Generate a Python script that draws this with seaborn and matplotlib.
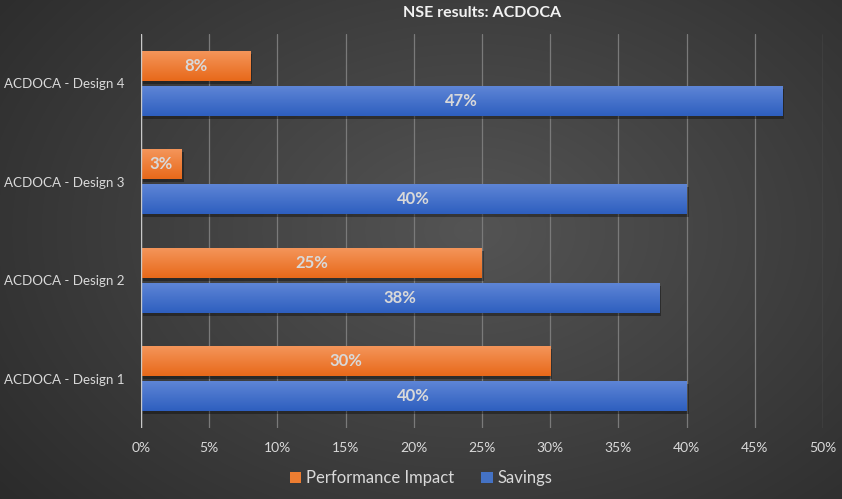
import numpy as np
import pandas as pd
import matplotlib
matplotlib.use("Agg")
import matplotlib.pyplot as plt
import seaborn as sns
from matplotlib.patches import Patch

categories = ["ACDOCA - Design 4", "ACDOCA - Design 3", "ACDOCA - Design 2", "ACDOCA - Design 1"]
performance_impact = [8, 3, 25, 30]
savings = [47, 40, 38, 40]
series_names = ["Performance Impact", "Savings"]
x_ticks = [0, 5, 10, 15, 20, 25, 30, 35, 40, 45, 50]

df = pd.DataFrame({
    "Design": categories * 2,
    "Series": [series_names[0]] * 4 + [series_names[1]] * 4,
    "Value": performance_impact + savings,
})

sns.set_theme(style="dark")
plt.rcParams["font.family"] = ["Lato", "DejaVu Sans"]

colors = {"Performance Impact": "#ED7D31", "Savings": "#4472C4"}
grad = {"Performance Impact": ("#f4955a", "#e8691a"), "Savings": ("#5e85d6", "#2e5fbf")}

fig = plt.figure(figsize=(8.42, 4.99), dpi=100)

# background radial gradient
bg = fig.add_axes([0, 0, 1, 1], zorder=-10)
yy, xx = np.mgrid[0:499, 0:842]
r = np.sqrt(((xx - 470) / 600.0) ** 2 + ((yy - 230) / 420.0) ** 2)
val = np.clip(0.33 - 0.16 * r, 0.16, 0.33)
bg.imshow(np.dstack([val, val, val]), aspect="auto", extent=[0, 1, 0, 1])
bg.axis("off")

ax = fig.add_axes([0.1675, 0.1423, 0.8099, 0.7896])
ax.set_facecolor("none")
ax.patch.set_alpha(0)

sns.barplot(data=df, y="Design", x="Value", hue="Series", order=categories,
            hue_order=series_names, palette=colors, orient="h",
            width=0.71, gap=0.15, ax=ax, legend=False, zorder=3,
            linewidth=0, errorbar=None)

ax.set_xlim(0, 50)
ax.set_xticks(x_ticks)
ax.set_xticklabels([f"{t}%" for t in x_ticks], color="#d9d9d9", fontsize=10)
ax.tick_params(axis="y", colors="#d9d9d9", labelsize=9.6, length=0, pad=12)
ax.tick_params(axis="x", length=0, pad=10)
ax.set_xlabel("")
ax.set_ylabel("")
ax.grid(axis="x", color="#7a7a7a", linewidth=0.9, zorder=0)
ax.grid(axis="y", visible=False)
for s in ax.spines.values():
    s.set_visible(False)
ax.axvline(0, color="#c8c8c8", linewidth=1.0, zorder=4)

# gradient fill + shadow + labels
for container, name in zip(ax.containers, series_names):
    top, bot = grad[name]
    ct = np.array(matplotlib.colors.to_rgb(top))
    cb = np.array(matplotlib.colors.to_rgb(bot))
    g = np.linspace(0, 1, 64)[:, None]
    img = (ct[None, :] * (1 - g) + cb[None, :] * g)[:, None, :]
    for bar in container:
        x0, y0 = bar.get_x(), bar.get_y()
        w, h = bar.get_width(), bar.get_height()
        # shadow
        ax.add_patch(plt.Rectangle((x0 + 0.15, y0 + 0.03), w, h, color="black",
                                   alpha=0.35, zorder=2, linewidth=0))
        im = ax.imshow(img, extent=[x0, x0 + w, y0 + h, y0], aspect="auto",
                       zorder=3.5, interpolation="bilinear")
        im.set_clip_path(bar)
        ax.text(x0 + w / 2, y0 + h / 2, f"{int(round(w))}%", ha="center", va="center",
                color="#d9d9d9", fontsize=12, fontweight="bold", zorder=5)

ax.set_xlim(0, 50)
ax.set_ylim(3.5, -0.5)

ax.set_title("NSE results: ACDOCA", color="#f2f2f2", fontsize=11.5, fontweight="bold", pad=12)

handles = [Patch(facecolor=colors[n], edgecolor="none", label=n) for n in series_names]
fig.legend(handles=handles, loc="lower center", bbox_to_anchor=(0.5, -0.005), ncol=2,
           frameon=False, fontsize=12, labelcolor="#d9d9d9", handlelength=0.7,
           handleheight=0.7, handletextpad=0.3, columnspacing=1.6)

fig.savefig("out.png", dpi=100)
